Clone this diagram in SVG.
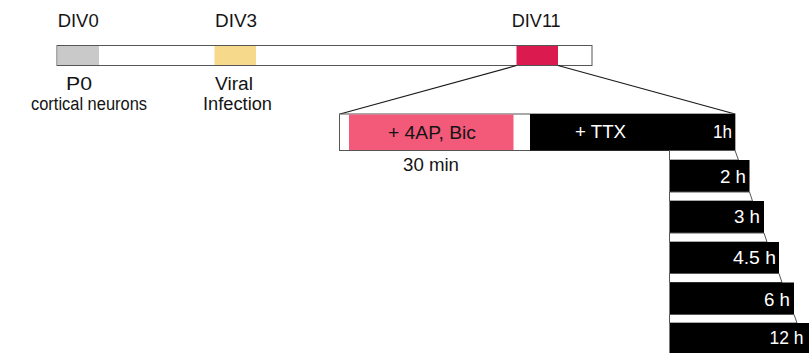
<svg xmlns="http://www.w3.org/2000/svg" width="809" height="353" viewBox="0 0 809 353">
<style>
text{font-family:"Liberation Sans",Arial,Helvetica,sans-serif;font-size:18px;fill:#141414}
.w{fill:#ffffff}
.e{text-anchor:end}
.ol{fill:#ffffff;stroke:#555555;stroke-width:1}
.blk{fill:#000000}
.ln{stroke:#1a1a1a;stroke-width:1.2;fill:none}
</style>
<rect width="809" height="353" fill="#ffffff"/>
<g id="timeline">
<rect class="ol" x="57" y="45.5" width="535" height="20"/>
<rect x="57.5" y="46" width="41.5" height="19" fill="#c9c9c9"/>
<rect x="214.5" y="46" width="41.5" height="19" fill="#f6d98b"/>
<rect x="516.5" y="46" width="41.5" height="19" fill="#db1a50"/>
<text x="57.7" y="26.5" textLength="41" lengthAdjust="spacingAndGlyphs">DIV0</text>
<text x="215" y="26.5" textLength="42" lengthAdjust="spacingAndGlyphs">DIV3</text>
<text x="511.7" y="26.5" textLength="49" lengthAdjust="spacingAndGlyphs">DIV11</text>
<text x="66" y="89.5" textLength="26" lengthAdjust="spacingAndGlyphs">P0</text>
<text x="31" y="110" textLength="116" lengthAdjust="spacingAndGlyphs">cortical neurons</text>
<text x="215" y="89.5" textLength="38" lengthAdjust="spacingAndGlyphs">Viral</text>
<text x="203" y="110" textLength="69" lengthAdjust="spacingAndGlyphs">Infection</text>
</g>
<g id="connectors">
<line class="ln" x1="516.5" y1="65.5" x2="340" y2="114"/>
<line class="ln" x1="558" y1="65.5" x2="735" y2="114"/>
<line x1="669.5" y1="150" x2="669.5" y2="353" stroke="#777777" stroke-width="1"/>
</g>
<g id="treatment">
<rect class="ol" x="339.5" y="114" width="395.5" height="36.5"/>
<rect x="349" y="114.5" width="164.5" height="35.5" fill="#f35a7a"/>
<rect class="blk" x="530" y="114" width="205" height="36.5"/>
<text x="388" y="138.5" textLength="88" lengthAdjust="spacingAndGlyphs">+ 4AP, Bic</text>
<text x="403" y="171" textLength="56" lengthAdjust="spacingAndGlyphs">30 min</text>
<text class="w" x="575" y="137.5" textLength="51" lengthAdjust="spacingAndGlyphs">+ TTX</text>
<text class="w e" x="732" y="137.5" textLength="19" lengthAdjust="spacingAndGlyphs">1h</text>
</g>
<g id="t2h">
<polygon class="ol" points="669.5,150.5 735,150.5 738.5,160 669.5,160"/>
<rect class="blk" x="670" y="160" width="79.5" height="32"/>
<text class="w e" x="746" y="182.5" textLength="26" lengthAdjust="spacingAndGlyphs">2 h</text>
</g>
<g id="t3h">
<polygon class="ol" points="669.5,192 749.5,192 752.5,201 669.5,201"/>
<rect class="blk" x="670" y="201" width="94" height="32"/>
<text class="w e" x="760" y="223" textLength="26" lengthAdjust="spacingAndGlyphs">3 h</text>
</g>
<g id="t45h">
<polygon class="ol" points="669.5,233 764,233 767,242 669.5,242"/>
<rect class="blk" x="670" y="242" width="109" height="31.5"/>
<text class="w e" x="776" y="264" textLength="43" lengthAdjust="spacingAndGlyphs">4.5 h</text>
</g>
<g id="t6h">
<polygon class="ol" points="669.5,273.5 779,273.5 782,282.5 669.5,282.5"/>
<rect class="blk" x="670" y="282.5" width="124" height="32"/>
<text class="w e" x="790" y="306" textLength="26" lengthAdjust="spacingAndGlyphs">6 h</text>
</g>
<g id="t12h">
<polygon class="ol" points="669.5,314.5 794,314.5 797,323 669.5,323"/>
<rect class="blk" x="670" y="323" width="139" height="30"/>
<text class="w e" x="803.5" y="344" textLength="34" lengthAdjust="spacingAndGlyphs">12 h</text>
</g>
</svg>
